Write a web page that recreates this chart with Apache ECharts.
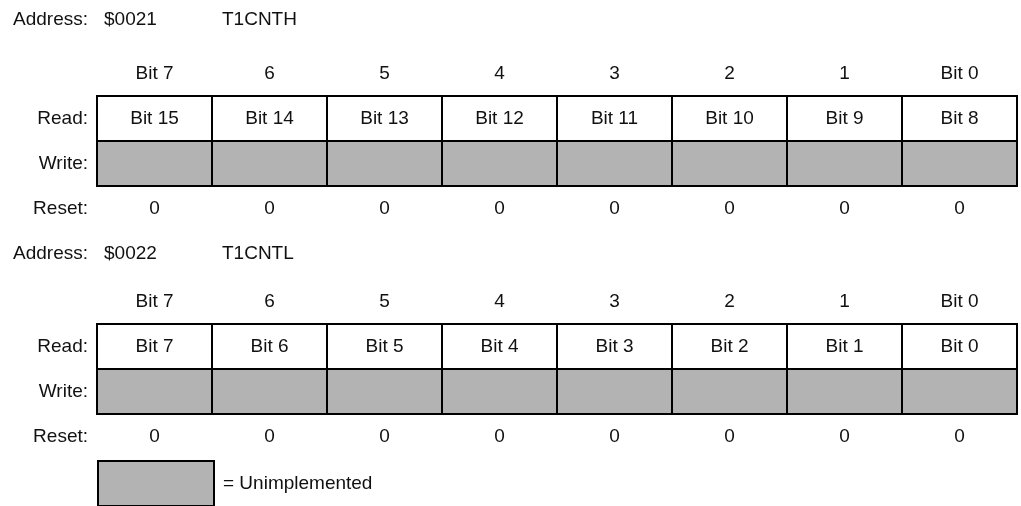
<!DOCTYPE html>
<html>
<head>
<meta charset="utf-8">
<script src="https://cdn.jsdelivr.net/npm/echarts@6/dist/echarts.min.js"></script>
<style>
  html, body { margin: 0; padding: 0; background: #fff; }
  #main { width: 1021px; height: 506px; }
</style>
</head>
<body>
<div id="main"></div>
<script>
// register data
const addresses = ['$0021', '$0022']
const regNames = ['T1CNTH', 'T1CNTL']
const bitHeaders = ['Bit 7', '6', '5', '4', '3', '2', '1', 'Bit 0']
const rowLabels = ['Read:', 'Write:', 'Reset:']
const readHigh = ['Bit 15', 'Bit 14', 'Bit 13', 'Bit 12', 'Bit 11', 'Bit 10', 'Bit 9', 'Bit 8']
const readLow = ['Bit 7', 'Bit 6', 'Bit 5', 'Bit 4', 'Bit 3', 'Bit 2', 'Bit 1', 'Bit 0']
const writeHigh = ['', '', '', '', '', '', '', '']
const writeLow = ['', '', '', '', '', '', '', '']
const resetHigh = [0, 0, 0, 0, 0, 0, 0, 0]
const resetLow = [0, 0, 0, 0, 0, 0, 0, 0]
const legendLabel = '= Unimplemented'

const FONT = 'Liberation Sans, Arial, Helvetica, sans-serif'
const FS = 19
const INK = '#111'
const GRAY = '#b3b3b3'

const readRows = [readHigh, readLow]
const writeRows = [writeHigh, writeLow]
const resetRows = [resetHigh, resetLow]
const gridTops = [96, 324]

// one cell: rect (optional) + text taken from labels[dataIndex]
function cellRenderer (fill, labels) {
  return function (params, api) {
    const c = api.coord([api.value(0), api.value(1)])
    const s = api.size([1, 1])
    const children = []
    if (fill) {
      children.push({
        type: 'rect',
        shape: { x: c[0] - s[0] / 2, y: c[1] - s[1] / 2, width: s[0], height: s[1] },
        style: { fill: fill, stroke: '#000', lineWidth: 2 }
      })
    }
    const txt = labels[params.dataIndex]
    if (txt !== '' && txt !== undefined) {
      children.push({
        type: 'text',
        x: c[0],
        y: c[1],
        style: { text: String(txt), align: 'center', verticalAlign: 'middle', font: FS + 'px ' + FONT, fill: INK }
      })
    }
    return { type: 'group', children: children }
  }
}

const grids = []
const xAxes = []
const yAxes = []
const series = []
const graphics = []

gridTops.forEach((top, g) => {
  grids.push({ left: 97, width: 920, top: top, height: 135 })
  xAxes.push({
    type: 'category',
    gridIndex: g,
    position: 'top',
    data: bitHeaders,
    axisLine: { show: false },
    axisTick: { show: false },
    splitLine: { show: false },
    axisLabel: { margin: 13, fontSize: FS, fontFamily: FONT, color: INK }
  })
  yAxes.push({
    type: 'category',
    gridIndex: g,
    inverse: true,
    data: rowLabels,
    axisLine: { show: false },
    axisTick: { show: false },
    splitLine: { show: false },
    axisLabel: { margin: 9, fontSize: FS, fontFamily: FONT, color: INK }
  })
  series.push({
    name: 'Read',
    type: 'custom',
    xAxisIndex: g,
    yAxisIndex: g,
    renderItem: cellRenderer('#fff', readRows[g]),
    data: readRows[g].map((v, i) => [i, 0])
  })
  series.push({
    name: legendLabel,
    type: 'custom',
    xAxisIndex: g,
    yAxisIndex: g,
    itemStyle: { color: GRAY, borderColor: '#000', borderWidth: 2 },
    renderItem: cellRenderer(GRAY, writeRows[g]),
    data: writeRows[g].map((v, i) => [i, 1])
  })
  series.push({
    name: 'Reset',
    type: 'custom',
    xAxisIndex: g,
    yAxisIndex: g,
    renderItem: cellRenderer(null, resetRows[g]),
    data: resetRows[g].map((v, i) => [i, 2])
  })
  const ay = top - (g === 0 ? 76 : 70)
  graphics.push(
    { type: 'text', x: 88, y: ay, style: { text: 'Address:', align: 'right', verticalAlign: 'middle', font: FS + 'px ' + FONT, fill: INK } },
    { type: 'text', x: 104, y: ay, style: { text: addresses[g], align: 'left', verticalAlign: 'middle', font: FS + 'px ' + FONT, fill: INK } },
    { type: 'text', x: 222, y: ay, style: { text: regNames[g], align: 'left', verticalAlign: 'middle', font: FS + 'px ' + FONT, fill: INK } }
  )
})

const chart = echarts.init(document.getElementById('main'), null, { renderer: 'canvas' })
chart.setOption({
  animation: false,
  backgroundColor: '#fff',
  grid: grids,
  xAxis: xAxes,
  yAxis: yAxes,
  series: series,
  graphic: graphics,
  legend: {
    data: [legendLabel],
    left: 97,
    top: 460,
    padding: 0,
    icon: 'rect',
    itemWidth: 116,
    itemHeight: 45,
    selectedMode: false,
    itemStyle: { color: GRAY, borderColor: '#000', borderWidth: 2 },
    textStyle: { fontSize: FS, fontFamily: FONT, color: INK, padding: [0, 0, 0, 4] }
  }
})
</script>
</body>
</html>
